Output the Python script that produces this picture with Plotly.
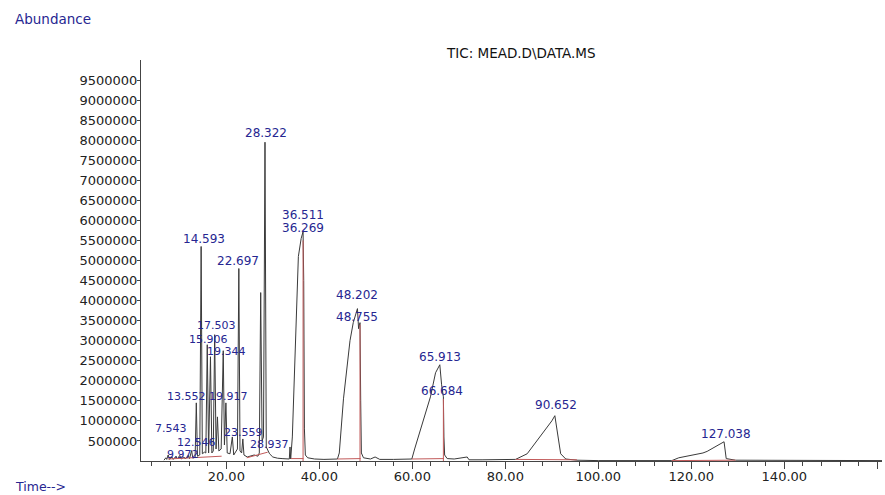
import plotly.graph_objects as go

# ---- data ----
rt_min = [6.6, 7.0, 7.2, 7.5, 7.8, 8.3, 8.6, 9.2, 9.5, 10.0, 10.3, 10.9, 11.2, 11.8, 12.1,
          12.546, 12.8, 13.3, 13.552, 13.8, 14.3, 14.593, 14.85, 15.3, 15.6, 15.906, 16.2,
          16.6, 16.9, 17.2, 17.503, 17.8, 18.1, 18.4, 18.9, 19.344, 19.6, 19.917, 20.2, 20.8,
          21.3, 21.6, 22.4, 22.697, 22.95, 23.3, 23.559, 23.8, 24.5, 25.2, 26.0, 26.8, 27.1,
          27.4, 27.7, 28.0, 28.322, 28.6, 28.937, 29.3, 30.0, 31.0, 32.0, 33.0, 33.55, 33.7,
          33.85, 34.2, 34.5, 35.0, 35.5, 36.1, 36.269, 36.511, 36.65, 36.8, 37.0, 37.5, 39.0,
          41.0, 43.9, 44.3, 45.2, 46.0, 46.6, 47.3, 48.202, 48.45, 48.755, 48.9, 49.05, 49.5,
          51.0, 52.0, 53.0, 56.0, 59.9, 60.5, 61.5, 62.4, 63.9, 65.0, 65.913, 66.3, 66.684,
          66.8, 66.95, 67.5, 69.0, 71.8, 72.2, 75.0, 82.2, 84.7, 86.8, 89.0, 90.0, 90.652,
          91.1, 91.9, 93.0, 95.4, 100.0, 115.8, 117.3, 120.5, 122.5, 123.4, 125.5, 127.038,
          127.5, 129.5, 161.0]
abundance = [20000, 80000, 40000, 150000, 40000, 100000, 40000, 120000, 50000, 140000, 50000,
             100000, 50000, 140000, 60000, 260000, 70000, 100000, 1450000, 120000, 150000,
             5350000, 180000, 220000, 200000, 2900000, 200000, 2600000, 200000, 250000,
             3150000, 300000, 1100000, 250000, 300000, 2750000, 400000, 1450000, 200000,
             180000, 600000, 150000, 300000, 4800000, 250000, 200000, 550000, 150000, 100000,
             120000, 150000, 120000, 200000, 4200000, 500000, 600000, 7950000, 350000, 250000,
             180000, 100000, 70000, 60000, 50000, 50000, 350000, 50000, 600000, 1750000,
             3450000, 5100000, 5550000, 5600000, 5720000, 4500000, 800000, 150000, 80000,
             50000, 40000, 50000, 200000, 1550000, 2400000, 3000000, 3450000, 3800000,
             3300000, 3450000, 1500000, 200000, 80000, 50000, 100000, 40000, 40000, 50000,
             300000, 700000, 1000000, 1600000, 2200000, 2400000, 1900000, 1600000, 600000,
             150000, 60000, 50000, 100000, 30000, 30000, 40000, 180000, 500000, 830000,
             1000000, 1130000, 750000, 180000, 50000, 20000, 10000, 10000, 80000, 150000,
             200000, 240000, 370000, 480000, 60000, 20000, 10000]

# integration baselines (red)
base_t0 = [7.5, 24.4, 33.9, 43.9, 59.9, 82.2, 115.8]
base_v0 = [50000, 80000, 60000, 50000, 50000, 40000, 10000]
base_t1 = [19.0, 28.9, 36.6, 48.9, 66.8, 95.4, 129.5]
base_v1 = [120000, 220000, 60000, 60000, 60000, 30000, 20000]
drop_t = [36.511, 48.755, 66.684]
drop_v = [5500000, 3400000, 1550000]

# peak labels (retention times) and their anchor in data units
label_text = ["9.972", "7.543", "12.546", "13.552", "19.917", "17.503", "15.906", "19.344",
              "14.593", "22.697", "23.559", "28.937", "28.322", "36.511", "36.269",
              "48.202", "48.755", "65.913", "66.684", "90.652", "127.038"]
label_t = [10.7, 8.1, 13.5, 11.5, 20.5, 18.0, 16.2, 20.0, 15.2, 22.5, 23.6, 29.3, 28.5,
           36.5, 36.5, 48.1, 48.2, 66.0, 66.4, 90.9, 127.5]
label_v = [150000, 800000, 470000, 1600000, 1600000, 3390000, 3040000, 2720000, 5540000,
           4990000, 720000, 400000, 8180000, 6130000, 5810000, 4140000, 3590000, 2590000,
           1750000, 1400000, 670000]

y_ticks = list(range(500000, 10000000, 500000))
x_ticks = [20, 40, 60, 80, 100, 120, 140, 160]
x_ticktext = ["20.00", "40.00", "60.00", "80.00", "100.00", "120.00", "140.00", ""]

NAVY = "#262691"
FONT = "DejaVu Sans"
ISOLATED = {"28.322", "36.511", "36.269", "48.202", "48.755", "65.913", "66.684",
            "90.652", "127.038", "14.593", "22.697"}

fig = go.Figure()
fig.add_trace(go.Scatter(x=rt_min, y=abundance, mode="lines",
                         line=dict(color="#3a3a3a", width=1), hoverinfo="skip"))

bx, by = [], []
for t0, v0, t1, v1 in zip(base_t0, base_v0, base_t1, base_v1):
    bx += [t0, t1, None]
    by += [v0, v1, None]
for t, v in zip(drop_t, drop_v):
    bx += [t, t, None]
    by += [0, v, None]
fig.add_trace(go.Scatter(x=bx, y=by, mode="lines",
                         line=dict(color="#c25a5a", width=1), hoverinfo="skip"))

for txt, t, v in zip(label_text, label_t, label_v):
    fig.add_annotation(x=t, y=v, text=txt, showarrow=False, xanchor="center",
                       yanchor="middle",
                       font=dict(family=FONT, size=12 if txt in ISOLATED else 11, color=NAVY),
                       borderpad=0)

fig.add_annotation(xref="paper", yref="paper", x=0.513, y=1.017, text="TIC: MEAD.D\\DATA.MS",
                   showarrow=False, xanchor="center", yanchor="middle",
                   font=dict(family=FONT, size=13.5, color="#111"))
fig.add_annotation(xref="paper", yref="paper", x=-0.1727, y=1.102, text="Abundance",
                   showarrow=False, xanchor="left", yanchor="middle",
                   font=dict(family=FONT, size=13.5, color=NAVY))
fig.add_annotation(xref="paper", yref="paper", x=-0.1727, y=-0.064, text="Time-->",
                   showarrow=False, xanchor="left", yanchor="middle",
                   font=dict(family=FONT, size=12.5, color=NAVY))

fig.update_layout(
    width=885, height=495,
    margin=dict(l=141, r=3, t=60, b=34, autoexpand=False),
    paper_bgcolor="white", plot_bgcolor="white",
    showlegend=False,
    xaxis=dict(range=[1.66, 161], showline=True, linecolor="#444", linewidth=1,
               showgrid=False, zeroline=False, ticks="outside", ticklen=7, automargin=False,
               tickcolor="#444", tickvals=x_ticks, ticktext=x_ticktext,
               tickfont=dict(family=FONT, size=13, color="#222"), ticklabelstandoff=-4,
               minor=dict(dtick=4, tick0=0, ticks="outside", ticklen=4, tickcolor="#444")),
    yaxis=dict(range=[0, 10000000], showline=True, linecolor="#444", linewidth=1,
               showgrid=False, zeroline=False, ticks="outside", ticklen=3, automargin=False,
               tickcolor="#444", tickvals=y_ticks, ticktext=[str(v) for v in y_ticks],
               tickfont=dict(family=FONT, size=13, color="#222"), ticklabelstandoff=-3),
)

fig.write_html("out.html", config={"displayModeBar": False},
               post_script="document.body.style.margin='0px';")
